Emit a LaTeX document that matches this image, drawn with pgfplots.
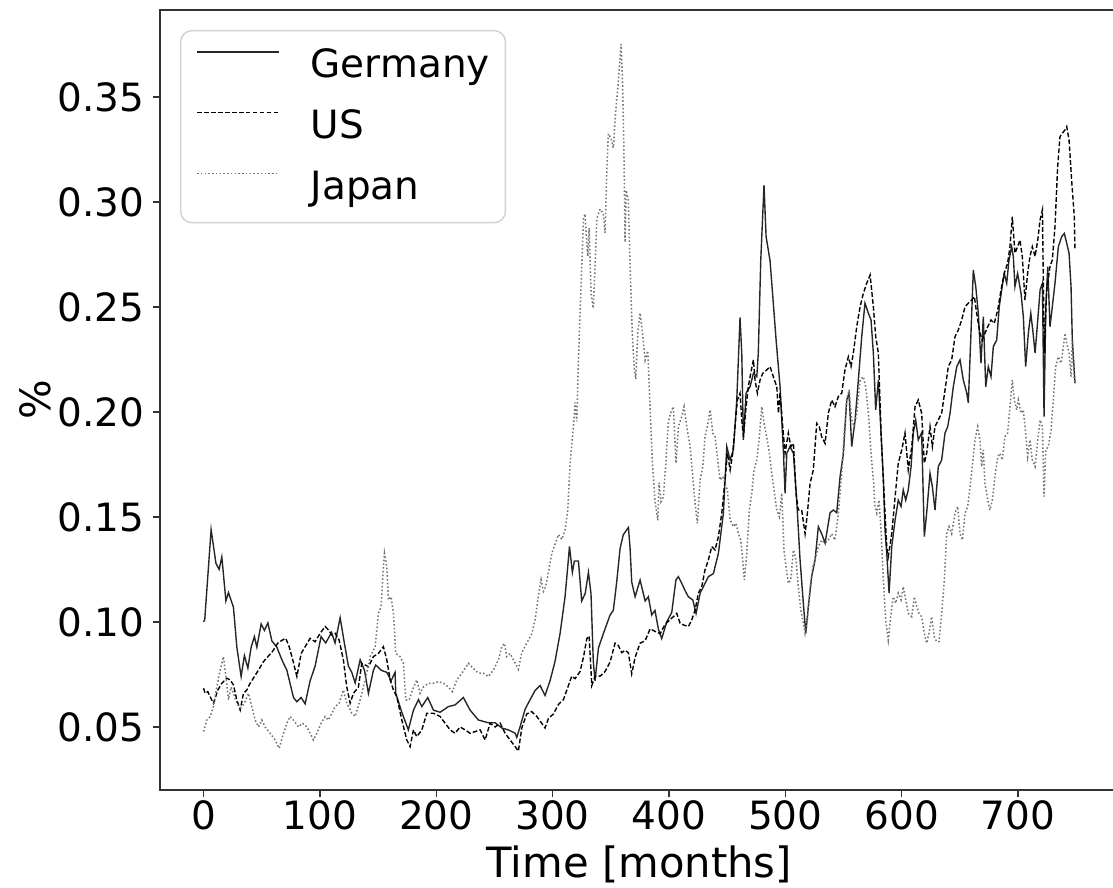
\documentclass[border=0pt]{standalone}
\usepackage{fontspec}
\setmainfont{DejaVu Sans}
\usepackage{pgfplots}
\pgfplotsset{compat=1.18}
\begin{document}
\begin{tikzpicture}
\begin{axis}[
  scale only axis,
  width=344.5pt, height=280.3pt,
  xmin=-37.45, xmax=786.45, ymin=0.02, ymax=0.3914,
  xtick={0,100,...,700},
  ytick={0.05,0.10,0.15,0.20,0.25,0.30,0.35},
  scaled y ticks=false,
  tick pos=left,
  tick align=outside,
  major tick length=2.6pt,
  every tick/.style={black!80, line width=0.45pt},
  axis line style={black!80, line width=0.5pt},
  /pgf/number format/assume math mode=true,
  yticklabel style={/pgf/number format/fixed, /pgf/number format/fixed zerofill, /pgf/number format/precision=2, inner sep=0pt, xshift=-2.8pt},
  xticklabel style={inner sep=0pt, yshift=-1.2pt},
  tick label style={font=\fontsize{14}{16}\selectfont},
  label style={font=\fontsize{15}{18}\selectfont},
  xlabel={Time [months]},
  ylabel={\%},
  xlabel style={at={(axis description cs:0.5,-0.1127)}, anchor=base, inner sep=0pt},
  ylabel style={at={(axis description cs:-0.1147,0.5)}, anchor=base, inner sep=0pt},
  legend cell align=left,
  legend image code/.code={\draw[#1] (0pt,5pt) -- (29.5pt,5pt);},
  legend style={at={(axis description cs:0.0209,0.9744)}, anchor=north west,
    draw=black!18, rounded corners=4pt, fill=white, line width=0.5pt,
    inner xsep=5.6pt, inner ysep=5.6pt, row sep=7.9pt, column sep=11.1pt,
    font=\fontsize{14}{16}\selectfont,
    nodes={inner sep=0pt, text height=11.3pt, text depth=2.7pt}},
]
\addplot[black!85, line width=0.5pt] coordinates {
(0,0.100) (1,0.101) (6.5,0.144) (10.6,0.128) (13.4,0.125) (15.7,0.131) (19.2,0.110) (21.4,0.114) (25.7,0.107) (28.6,0.088) (32.3,0.074) (35.1,0.084) (38.1,0.078) (40.9,0.088) (43.7,0.093) (45.8,0.088) (49.5,0.099) (52.3,0.096) (55.3,0.0995) (58.7,0.091) (63,0.088) (67.3,0.082) (71.6,0.077) (77.3,0.064) (80.2,0.062) (83.9,0.064) (87.3,0.061) (91.6,0.072) (95.9,0.079) (101,0.093) (105,0.090) (110,0.095) (113,0.090) (117.4,0.102) (121,0.090) (124.5,0.079) (127.4,0.076) (130.3,0.071) (134.6,0.082) (138.3,0.077) (141.7,0.066) (146,0.077) (148,0.0795) (152.6,0.077) (157.5,0.076) (161.2,0.072) (164.6,0.076) (165.2,0.066) (170.4,0.057) (176,0.0486) (180.4,0.058) (184.7,0.063) (187.6,0.0597) (192.7,0.064) (197.6,0.058) (203.3,0.057) (210.5,0.0597) (216.2,0.0605) (223.3,0.064) (229.1,0.058) (236.2,0.0533) (244.8,0.052) (250.6,0.052) (256.3,0.0495) (262,0.0486) (267.8,0.047) (269.2,0.045) (272,0.050) (276.4,0.0585) (280.7,0.063) (285,0.0674) (289.3,0.0697) (293.5,0.065) (297.8,0.072) (302,0.081) (306.4,0.0944) (310.7,0.112) (313.6,0.130) (314.5,0.136) (317,0.1236) (318.7,0.129) (322.2,0.129) (325,0.110) (328,0.1135) (330.8,0.1236) (333,0.1135) (335,0.081) (336.5,0.072) (339.4,0.0876) (343.6,0.0944) (349.4,0.1033) (352.2,0.1055) (355.1,0.119) (358,0.135) (360.8,0.1416) (365.2,0.145) (366.6,0.135) (368,0.119) (370.9,0.112) (375.2,0.120) (379.5,0.110) (382.3,0.112) (385.2,0.1033) (388,0.1055) (390.9,0.0966) (393.8,0.0921) (398.1,0.100) (402.4,0.1045) (406,0.120) (408.1,0.1216) (411,0.1184) (413.8,0.115) (416.7,0.112) (420.5,0.1105) (423.3,0.104) (426.8,0.1137) (429.6,0.1168) (433.9,0.1216) (438.2,0.123) (442.5,0.1327) (446.8,0.1518) (449.7,0.1835) (452.6,0.1771) (455.4,0.182) (458.3,0.2057) (461.1,0.245) (462.6,0.228) (464,0.1867) (466.3,0.209) (469.7,0.212) (472.6,0.2184) (475.5,0.2168) (476.8,0.228) (478.9,0.272) (481.7,0.308) (483.5,0.2835) (486.9,0.272) (489.7,0.2518) (492.1,0.2343) (495.5,0.212) (498.3,0.182) (499.8,0.1613) (501.3,0.1803) (504.1,0.1835) (507,0.1803) (509.8,0.158) (512.7,0.1295) (515.5,0.109) (517.6,0.0946) (519.8,0.1073) (522.7,0.1216) (525.6,0.1295) (528.4,0.1454) (531.3,0.142) (534.2,0.1375) (538.5,0.152) (541.3,0.1533) (544.2,0.152) (547.1,0.1692) (549.9,0.180) (552.8,0.2057) (554.8,0.209) (557.1,0.1835) (560,0.1962) (562.8,0.2152) (565.7,0.2359) (568.5,0.2518) (571.4,0.247) (573.7,0.2438) (575.7,0.228) (577.7,0.201) (580,0.2152) (582.3,0.190) (584.3,0.1676) (585.7,0.1438) (587.2,0.1327) (589.2,0.1137) (591.5,0.1359) (594.4,0.1486) (597.1,0.158) (599.5,0.155) (601.4,0.1629) (603.5,0.158) (605.7,0.1629) (608.1,0.174) (610,0.190) (612.1,0.1962) (614.3,0.1867) (617.2,0.190) (619.5,0.1406) (621.5,0.1518) (624.4,0.1708) (626.4,0.1644) (628.7,0.1533) (631.5,0.174) (634.4,0.1771) (637.3,0.190) (639.6,0.193) (641.6,0.1994) (644.4,0.212) (647.4,0.2216) (650.2,0.2248) (653,0.2152) (656,0.209) (657.3,0.2043) (659.6,0.2375) (661.6,0.2676) (663.7,0.2597) (665.9,0.247) (668.2,0.2232) (670.2,0.2454) (672.3,0.212) (674.5,0.2216) (676.8,0.2168) (678.8,0.2311) (681.7,0.2343) (683.9,0.2501) (686,0.2581) (688.2,0.266) (690.3,0.2613) (692.3,0.2724) (694.6,0.2787) (696,0.274) (697.4,0.2597) (699.7,0.266) (702.6,0.2565) (704.6,0.2454) (706.6,0.2216) (708.9,0.2375) (711,0.247) (712.7,0.239) (714.7,0.228) (717,0.2438) (719,0.2581) (721,0.2613) (722.4,0.1978) (723.9,0.2501) (725.6,0.2692) (727.5,0.2406) (729.5,0.2501) (731.8,0.2613) (734.7,0.2787) (737.6,0.2835) (739.8,0.285) (741.9,0.2803) (743.9,0.2756) (745.6,0.2597) (746.7,0.2343) (749,0.2136)
};
\addlegendentry{Germany}
\addplot[black, line width=0.5pt, dash pattern=on 1.7pt off 0.8pt] coordinates {
(0,0.0684) (1.4,0.066) (3.7,0.0668) (5.7,0.0644) (8.5,0.0613) (12.3,0.0676) (15.7,0.0708) (20,0.0732) (22.9,0.0724) (25.7,0.070) (28.6,0.0629) (31.5,0.0581) (34.3,0.066) (37.2,0.0676) (40,0.0708) (43.7,0.074) (47.2,0.0771) (51.5,0.0811) (55.3,0.0835) (59.2,0.0859) (63.8,0.0899) (67.8,0.0914) (70.7,0.0922) (73.6,0.0882) (76.7,0.0819) (80.2,0.074) (83.9,0.085) (87.3,0.0882) (91.6,0.0922) (95.9,0.0906) (100.2,0.0946) (104.5,0.0978) (107.3,0.0962) (110.3,0.0938) (113.1,0.0946) (116.5,0.0914) (120.2,0.0819) (123.1,0.069) (126,0.0613) (128.8,0.066) (133.1,0.069) (136,0.0803) (141.7,0.0787) (146,0.0835) (150.3,0.085) (154.6,0.0882) (157.5,0.0819) (160.4,0.0724) (163.2,0.0676) (166.1,0.0644) (170.4,0.0533) (174.7,0.0438) (177.5,0.0406) (180.4,0.0486) (183.3,0.0454) (187.6,0.0486) (191.9,0.0565) (197.6,0.0565) (203.3,0.055) (207.6,0.0518) (211.9,0.0486) (216.2,0.047) (220.5,0.050) (224.8,0.0486) (229.1,0.047) (233.4,0.0478) (237.7,0.0486) (242,0.0438) (246.3,0.0518) (250.6,0.050) (254.9,0.0518) (259.2,0.047) (263.5,0.0438) (267.8,0.0406) (270.6,0.0385) (273.5,0.0495) (277.8,0.0562) (282.1,0.0573) (286.4,0.055) (290.7,0.0517) (293.5,0.0495) (296.4,0.054) (300.7,0.0562) (305,0.0607) (309.3,0.063) (313.6,0.0697) (316.5,0.0742) (319.3,0.073) (323.6,0.0764) (326.5,0.0831) (329.4,0.0921) (331.4,0.0933) (333.7,0.0697) (336.5,0.0742) (340.8,0.0742) (345.1,0.0764) (349.4,0.0809) (353.7,0.0899) (356.5,0.0888) (359.5,0.0854) (362.3,0.0865) (365.1,0.0854) (368,0.0753) (370.9,0.0831) (375.2,0.0899) (379.5,0.091) (383.8,0.0967) (388.1,0.0955) (392.4,0.0944) (396.7,0.0989) (401,0.1011) (403.8,0.1025) (406.7,0.1041) (409.6,0.0994) (412.4,0.0986) (416.7,0.0978) (419.6,0.101) (422.5,0.1057) (425.3,0.1137) (428.2,0.1168) (431,0.1248) (433.9,0.1295) (436.8,0.1359) (439.6,0.1343) (442.5,0.1406) (445.4,0.1518) (448.2,0.1676) (450.2,0.1803) (452.6,0.1724) (454.8,0.1803) (456.8,0.193) (458.8,0.2057) (461.1,0.2089) (462.6,0.1962) (464,0.1882) (466.3,0.2025) (468.2,0.212) (470.3,0.2184) (472.6,0.2248) (474,0.2152) (476,0.2089) (478.3,0.2152) (480.6,0.2184) (484,0.22) (486.9,0.2216) (489.7,0.2168) (492.7,0.212) (494.1,0.1994) (495.5,0.2089) (497.8,0.193) (499.8,0.1803) (502.6,0.190) (504.7,0.1835) (507,0.185) (509.2,0.1613) (511.2,0.1533) (514.1,0.1533) (517,0.142) (519,0.1518) (521.3,0.166) (524.1,0.1724) (527,0.1946) (529.2,0.193) (531.3,0.1882) (534.2,0.185) (537,0.1994) (539.9,0.2057) (542.7,0.2025) (545.6,0.2073) (548.5,0.2089) (551.3,0.22) (554.2,0.2263) (556.5,0.2216) (558.5,0.228) (561.4,0.2406) (564.3,0.2501) (567.1,0.2565) (570,0.2613) (572.9,0.2652) (575.7,0.2501) (577.7,0.2359) (580,0.228) (582.3,0.190) (584.3,0.1676) (585.7,0.1518) (587.2,0.1359) (588.5,0.1311) (591.5,0.142) (594.4,0.1597) (597.1,0.1756) (600.1,0.1819) (602.9,0.190) (605.7,0.1724) (608.7,0.1835) (611.5,0.2025) (614.3,0.2057) (617.2,0.1994) (619.5,0.1756) (621.5,0.1803) (624.4,0.193) (626.4,0.1835) (628.7,0.193) (631.5,0.1962) (634.4,0.1994) (637.3,0.2105) (640.1,0.2216) (643,0.2248) (645.9,0.2359) (648.7,0.239) (651.6,0.2438) (654.5,0.2501) (657.3,0.2518) (660.2,0.2533) (662.5,0.2549) (664.5,0.247) (667.3,0.2375) (669.3,0.2343) (671.6,0.2375) (674,0.2406) (676.8,0.2438) (679.6,0.2422) (682.6,0.2486) (685.4,0.2581) (688.2,0.266) (691.1,0.2708) (693.1,0.2787) (695.1,0.293) (697.4,0.2756) (699.7,0.2787) (701.7,0.2819) (703.7,0.274) (706,0.2533) (708.3,0.266) (710.3,0.274) (712.3,0.2787) (714.7,0.274) (717,0.2819) (719,0.2914) (721,0.2962) (722.6,0.228) (724.7,0.2581) (727.5,0.2692) (729.5,0.2724) (731.8,0.2882) (734.1,0.3168) (736.1,0.3311) (738.1,0.3327) (740.4,0.3343) (741.9,0.3359) (743.9,0.3295) (746.1,0.3105) (748.4,0.293) (749,0.2771)
};
\addlegendentry{US}
\addplot[black!55, line width=0.55pt, dash pattern=on 0.55pt off 0.8pt] coordinates {
(0,0.0478) (2.8,0.0533) (5.7,0.055) (8.5,0.0597) (11.4,0.069) (14.3,0.0771) (17.1,0.0835) (19.2,0.074) (21.4,0.0629) (23.7,0.069) (25.7,0.066) (28.6,0.0613) (31.5,0.059) (35.1,0.0613) (38.6,0.066) (41.5,0.0597) (44.3,0.0533) (47.2,0.050) (50.1,0.0533) (52.9,0.050) (57.2,0.047) (61.5,0.0438) (65,0.0398) (67.8,0.0454) (71.6,0.0518) (74.4,0.055) (77.3,0.0533) (81.6,0.050) (85,0.0518) (88.8,0.050) (91.6,0.047) (94.4,0.0438) (97.4,0.047) (101,0.0518) (104.5,0.055) (107.3,0.0533) (110.3,0.0565) (113.1,0.0597) (116.5,0.0613) (120.2,0.0676) (123.1,0.0613) (127.4,0.0565) (130.3,0.055) (134.6,0.0629) (138.9,0.0724) (143.2,0.0835) (147.5,0.0882) (150.3,0.1041) (152.6,0.1073) (154.6,0.1263) (155.5,0.1327) (157.5,0.1263) (158.9,0.1105) (161.2,0.112) (163.2,0.1041) (165.2,0.085) (169,0.0835) (171.8,0.0803) (173.8,0.0629) (176.7,0.0629) (179.5,0.0676) (183.3,0.0724) (186.1,0.066) (189,0.069) (193.3,0.0708) (197.6,0.0708) (201.9,0.0716) (206.2,0.0708) (210.5,0.069) (213.9,0.0668) (217.7,0.0724) (222,0.0756) (227.6,0.0803) (231.9,0.0779) (236.2,0.0756) (240.5,0.0756) (244.8,0.074) (249.1,0.0771) (253.4,0.0819) (256.3,0.0882) (258.6,0.0898) (260.6,0.0835) (263.5,0.085) (266.3,0.0819) (270.6,0.0775) (273.5,0.0854) (277.8,0.0899) (282.1,0.0944) (285,0.1011) (287.8,0.1124) (290.1,0.1202) (292.1,0.1146) (294.1,0.1169) (296.4,0.1236) (299.3,0.1326) (302.1,0.137) (305,0.1416) (307.9,0.1393) (310.7,0.1438) (313,0.1528) (315,0.1752) (317.9,0.1932) (319.3,0.2045) (320.8,0.1955) (322.2,0.2247) (323.6,0.2471) (325.1,0.2696) (326.5,0.292) (327.9,0.2943) (328.8,0.2853) (330.2,0.2741) (331.4,0.2876) (333.1,0.2561) (335,0.2494) (336.5,0.2696) (338,0.292) (340.8,0.2966) (343.6,0.2943) (345.1,0.2853) (346.6,0.3145) (347.9,0.3325) (350.3,0.3302) (352.2,0.3258) (354.3,0.3437) (356.5,0.3572) (358.9,0.3751) (360,0.3594) (361.2,0.328) (362.3,0.2808) (363.2,0.3055) (365.1,0.301) (366.6,0.2696) (368.6,0.2359) (370.3,0.2202) (371.5,0.2157) (373.2,0.2381) (375.2,0.2471) (377.2,0.2381) (379.5,0.2247) (381.8,0.2291) (383.8,0.2022) (385.8,0.1752) (388.1,0.1573) (390.4,0.1483) (391.5,0.1663) (393.2,0.1573) (395.2,0.1595) (397.3,0.1752) (399.5,0.1955) (401.8,0.200) (403.8,0.2025) (406.1,0.1756) (408.1,0.193) (411,0.1978) (413,0.2025) (415.3,0.193) (418.2,0.1835) (420.5,0.1692) (422.5,0.1565) (424.4,0.147) (426.8,0.1676) (429.1,0.174) (431,0.1882) (433,0.193) (435.4,0.201) (437.7,0.1899) (439.6,0.1882) (441.6,0.1787) (443.9,0.1676) (446.3,0.1692) (448.2,0.166) (450.2,0.1629) (452.6,0.1486) (455.4,0.1454) (457.7,0.147) (459.6,0.1422) (461.7,0.139) (463.4,0.1295) (464.8,0.12) (466.9,0.1327) (469.1,0.1533) (471.2,0.1613) (473.1,0.1724) (475.5,0.1771) (477.7,0.1882) (479.8,0.2025) (481.7,0.1946) (484,0.1882) (486.3,0.1803) (488.4,0.1708) (490.3,0.1629) (492.7,0.1533) (494.9,0.1501) (497,0.1613) (498.9,0.1343) (500.6,0.1263) (502.6,0.1184) (504.7,0.12) (507,0.1343) (509.2,0.1295) (511.2,0.1168) (513.3,0.1057) (515,0.101) (517,0.0946) (519,0.101) (521.3,0.1168) (523.7,0.1263) (525.6,0.1295) (528.4,0.1359) (531.3,0.139) (534.2,0.1375) (537,0.139) (539.9,0.142) (542.7,0.139) (545.6,0.1518) (548.5,0.1708) (550.7,0.190) (552.8,0.2057) (554.8,0.2105) (557.1,0.1962) (559.3,0.193) (561.4,0.1994) (564.3,0.2152) (567.1,0.2168) (569.1,0.212) (571.4,0.1994) (573.7,0.1803) (575.7,0.1676) (577.1,0.1549) (578.6,0.1518) (580.6,0.158) (582.3,0.1438) (584.3,0.12) (586.3,0.101) (588.5,0.0914) (590.9,0.1041) (592.8,0.112) (594.9,0.1089) (597.1,0.1137) (599.5,0.1105) (601.4,0.1168) (603.5,0.1105) (605.7,0.1041) (608.7,0.1025) (610.9,0.112) (613,0.1073) (614.9,0.1041) (617.2,0.1025) (619.5,0.0946) (621.5,0.0899) (623.5,0.0946) (625.8,0.1025) (628.1,0.093) (630.1,0.0906) (632.1,0.0906) (634.4,0.1041) (636.7,0.12) (638.7,0.142) (640.7,0.1454) (643,0.142) (645.9,0.1518) (648.2,0.155) (650.2,0.142) (652.2,0.139) (654.5,0.1518) (656.8,0.155) (658.8,0.1644) (660.7,0.174) (663,0.1867) (665.4,0.193) (667.3,0.1867) (668.8,0.174) (670.2,0.1819) (671.6,0.166) (674,0.158) (675.9,0.1533) (677.9,0.158) (680.2,0.1692) (682.6,0.1787) (684.5,0.1803) (686.5,0.1771) (688.8,0.1882) (691.1,0.1899) (693.1,0.2025) (695.1,0.2152) (696.8,0.2057) (698.9,0.201) (700.3,0.2057) (702.6,0.1994) (704.6,0.201) (706.6,0.1899) (708.3,0.1787) (710.3,0.1867) (712.3,0.1771) (714.7,0.174) (717,0.1867) (719,0.1962) (721,0.193) (722.4,0.1597) (723.9,0.1819) (726.1,0.1835) (728.4,0.1914) (730.4,0.2057) (732.4,0.2216) (734.7,0.2263) (737,0.2232) (739,0.2311) (740.4,0.2375) (741.9,0.2327) (743.9,0.228) (745.6,0.2168) (746.7,0.2343) (748.4,0.2152) (749.6,0.2136)
};
\addlegendentry{Japan}
\end{axis}
\pgfresetboundingbox
\path (current axis.south west) ++(-57.5pt,-35.2pt) rectangle ++(400pt,319.1pt);
\end{tikzpicture}
\end{document}
